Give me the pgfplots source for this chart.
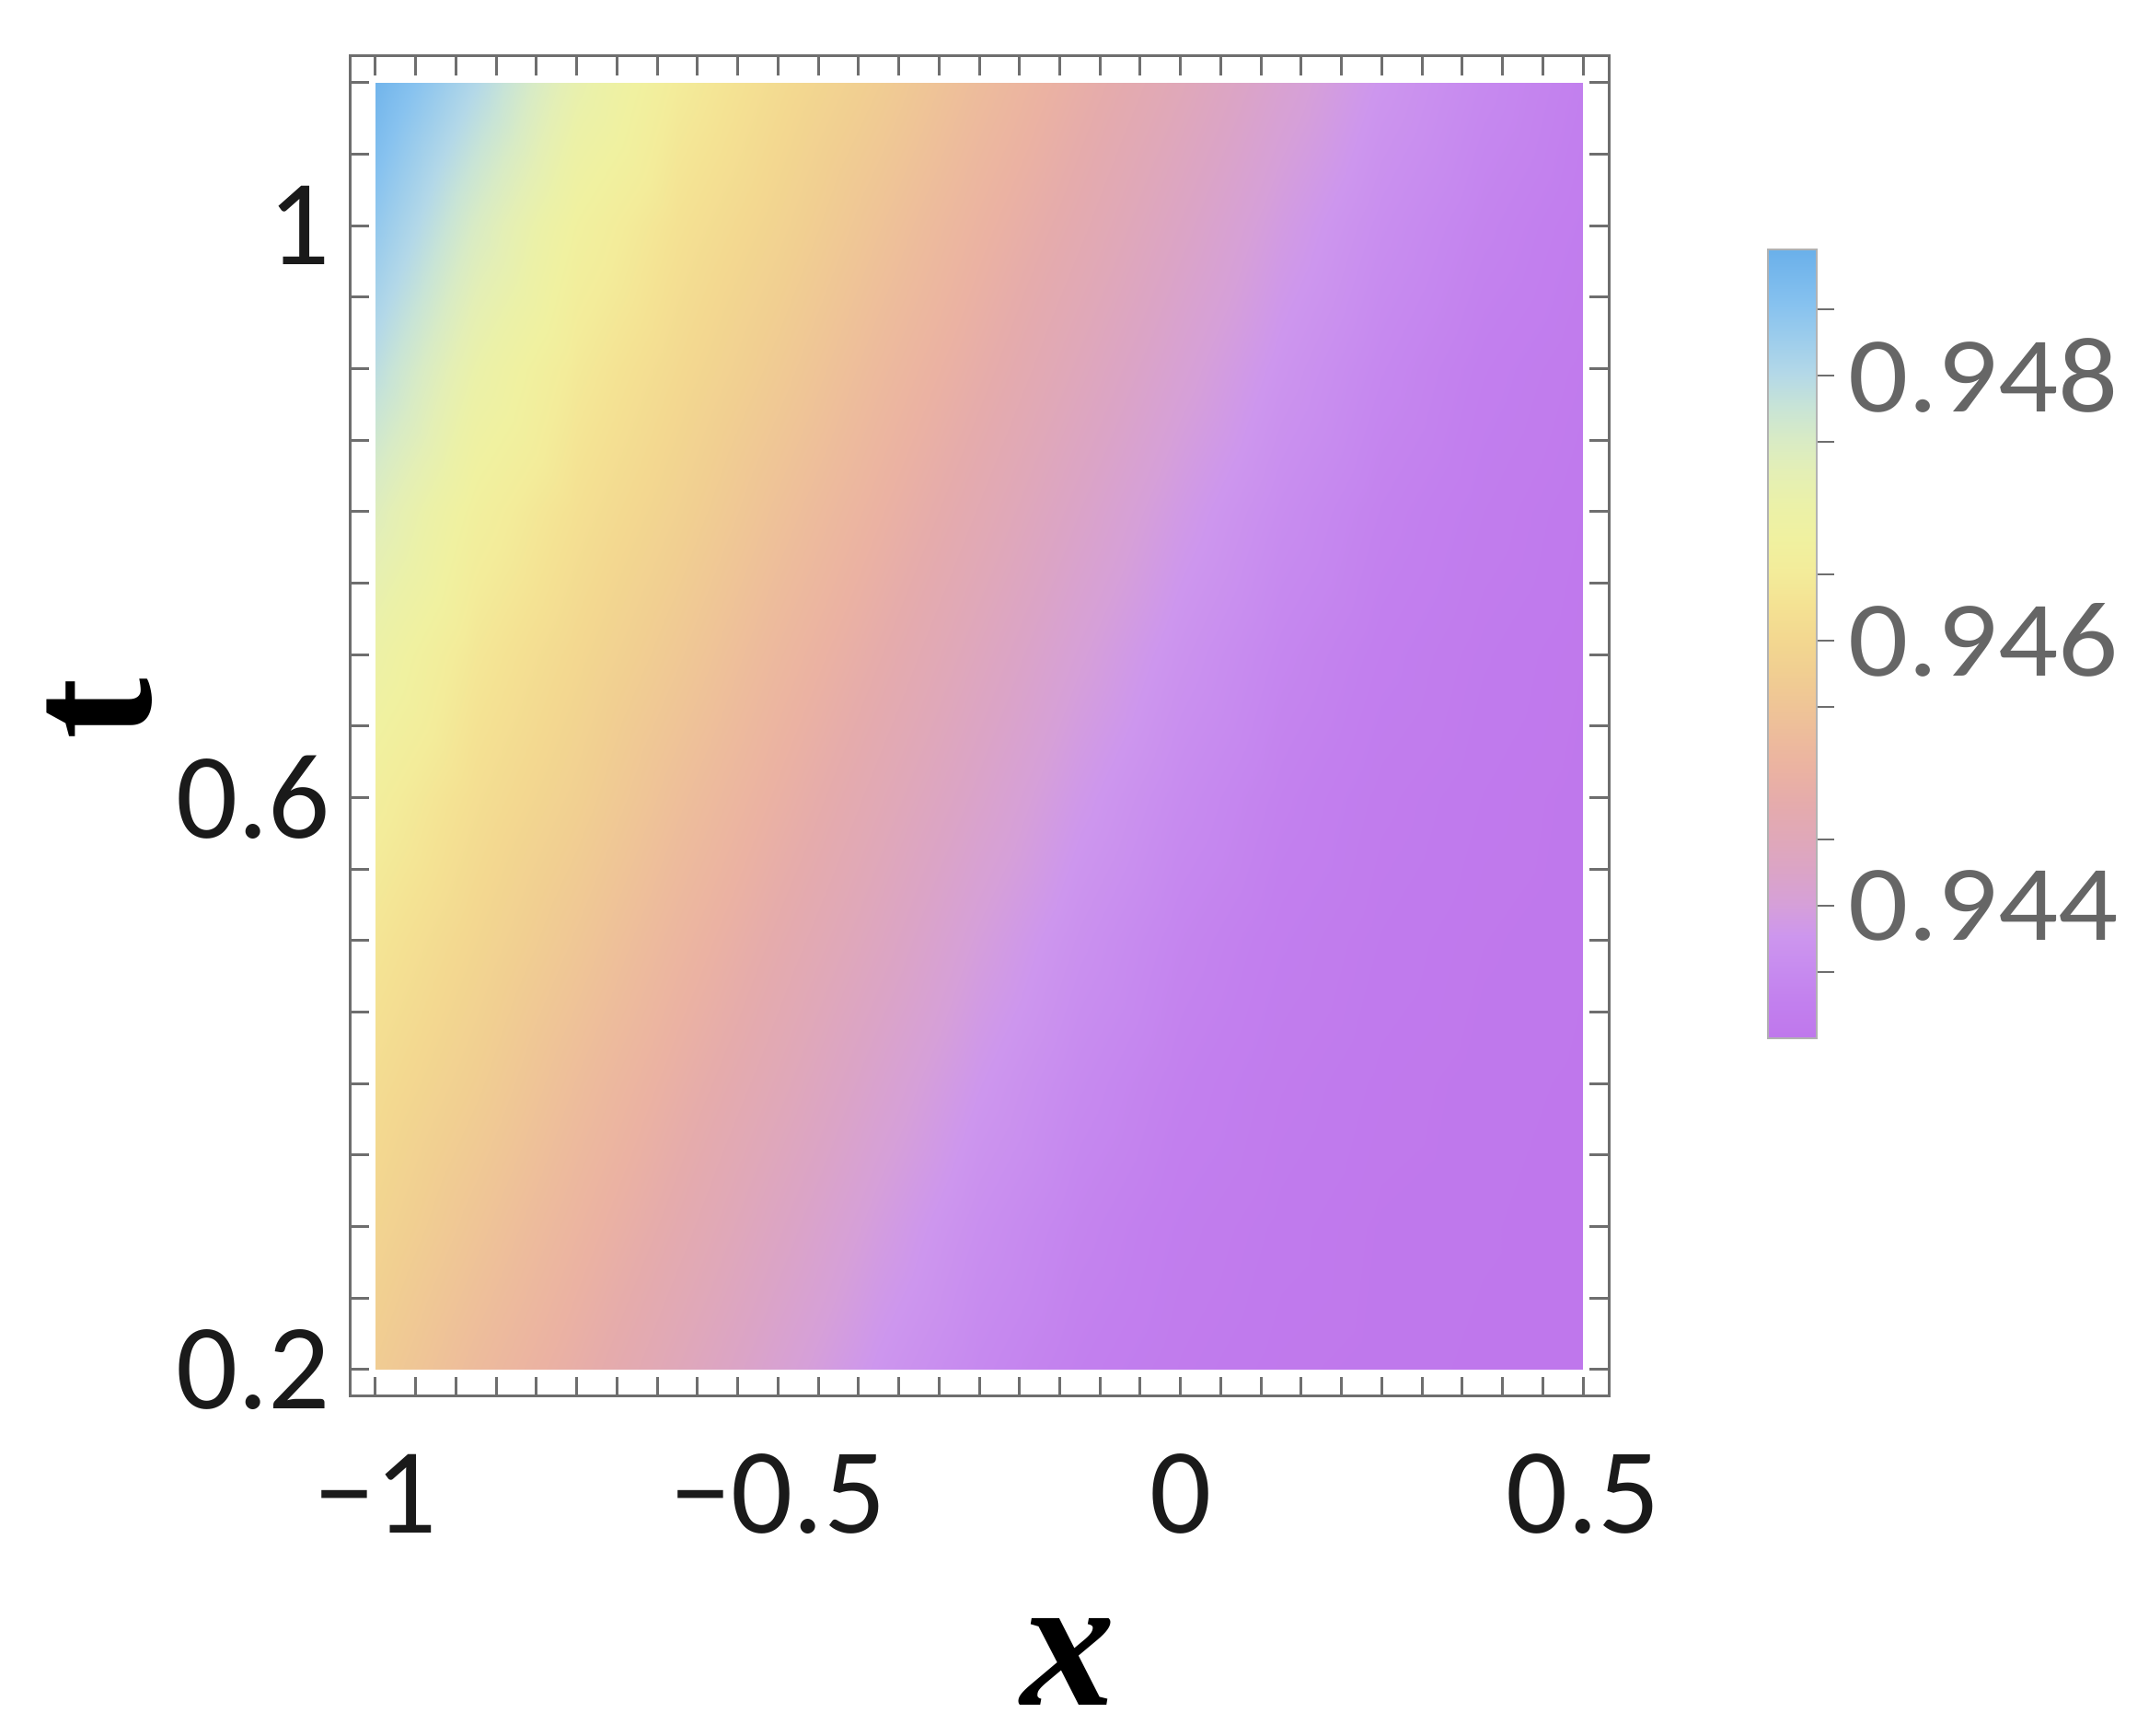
\documentclass[border=0pt]{standalone}
\usepackage{fontspec}
\setmainfont{Carlito}
\newfontfamily\labelfont{Liberation Serif}
\usepackage{graphicx}
\usepackage{pgfplots}
\pgfplotsset{compat=1.18}

\definecolor{framegray}{RGB}{110,110,110}
\definecolor{cbtext}{RGB}{102,102,102}
\definecolor{ticktext}{RGB}{26,26,26}

% value scale: position = (value - 0.94300) * 1e5
\pgfplotsset{colormap={pastel}{
  rgb255(0pt)=(191,119,236) rgb255(26pt)=(194,127,238) rgb255(52pt)=(199,139,239)
  rgb255(77pt)=(205,150,238) rgb255(102pt)=(214,160,216) rgb255(127pt)=(219,164,198)
  rgb255(152pt)=(224,168,184) rgb255(177pt)=(229,171,172) rgb255(202pt)=(235,178,162)
  rgb255(227pt)=(237,187,156) rgb255(252pt)=(239,197,150) rgb255(278pt)=(241,207,145)
  rgb255(302pt)=(243,216,144) rgb255(327pt)=(244,226,147) rgb255(352pt)=(243,236,154)
  rgb255(377pt)=(240,241,160) rgb255(402pt)=(235,241,168) rgb255(427pt)=(228,239,181)
  rgb255(452pt)=(216,235,197) rgb255(476pt)=(200,228,214) rgb255(502pt)=(179,216,232)
  rgb255(553pt)=(135,194,239) rgb255(595pt)=(106,176,234)}}

\begin{document}
\begin{tikzpicture}
\useasboundingbox (0,0) rectangle (464.4pt,377.2pt);
\begin{axis}[
  at={(76pt,73.8pt)}, anchor=south west,
  scale only axis, width=273.6pt, height=291.2pt,
  xmin=-1.032, xmax=0.532, ymin=0.1813, ymax=1.1187,
  colormap name=pastel,
  point meta min=0.94300, point meta max=0.94895,
  axis line style={framegray, line width=0.6pt},
  tick style={framegray, line width=0.6pt},
  tick align=inside,
  major tick length=4.2pt, minor tick length=4.2pt,
  xtick={-1,-0.5,0,0.5}, xticklabels={−1,−0.5,0,0.5},
  ytick={0.2,0.6,1}, yticklabels={0.2,0.6,1},
  minor xtick={-0.95,-0.9,...,0.46},
  minor ytick={0.25,0.3,...,1.11},
  ticklabel style={font=\fontsize{26.5}{28}\selectfont, text=ticktext, inner sep=0pt},
  xticklabel style={anchor=center, yshift=-21.2pt},
  yticklabel style={anchor=east, xshift=-4pt},
  colorbar,
  colorbar style={
    at={(parent axis.north east)}, anchor=north west,
    xshift=26.1pt, yshift=-42pt,
    scale only axis, width=10.6pt, height=171.4pt,
    xtick=\empty,
    ytick={0.944,0.946,0.948},
    yticklabels={\scalebox{1.1}[1]{0.944},\scalebox{1.1}[1]{0.946},\scalebox{1.1}[1]{0.948}},
    minor ytick={0.9435,0.9445,0.9455,0.9465,0.9475,0.9485},
    ytick pos=right, yticklabel pos=right,
    tick align=outside,
    major tick length=3.7pt, minor tick length=3.7pt,
    axis line style={gray!60, line width=0.3pt},
    tick style={framegray, line width=0.4pt},
    yticklabel style={font=\fontsize{23.4}{25}\selectfont, text=cbtext, anchor=west, inner sep=0pt, xshift=2.9pt},
  },
]
\addplot[surf, shader=interp, mesh/cols=13, point meta=explicit]
  table[x=x, y=t, meta=v] {
x t v
-1 0.2 0.94570
-0.875 0.2 0.94527
-0.75 0.2 0.94488
-0.625 0.2 0.94449
-0.5 0.2 0.94411
-0.375 0.2 0.94375
-0.25 0.2 0.94347
-0.125 0.2 0.94327
0 0.2 0.94314
0.125 0.2 0.94306
0.25 0.2 0.94303
0.375 0.2 0.94301
0.5 0.2 0.94300
-1 0.3 0.94592
-0.875 0.3 0.94551
-0.75 0.3 0.94510
-0.625 0.3 0.94471
-0.5 0.3 0.94432
-0.375 0.3 0.94394
-0.25 0.3 0.94361
-0.125 0.3 0.94337
0 0.3 0.94320
0.125 0.3 0.94310
0.25 0.3 0.94304
0.375 0.3 0.94302
0.5 0.3 0.94300
-1 0.4 0.94612
-0.875 0.4 0.94575
-0.75 0.4 0.94532
-0.625 0.4 0.94492
-0.5 0.4 0.94454
-0.375 0.4 0.94415
-0.25 0.4 0.94379
-0.125 0.4 0.94350
0 0.4 0.94329
0.125 0.4 0.94315
0.25 0.4 0.94307
0.375 0.4 0.94303
0.5 0.4 0.94301
-1 0.5 0.94634
-0.875 0.5 0.94596
-0.75 0.5 0.94556
-0.625 0.5 0.94514
-0.5 0.5 0.94475
-0.375 0.5 0.94437
-0.25 0.5 0.94398
-0.125 0.5 0.94365
0 0.5 0.94339
0.125 0.5 0.94322
0.25 0.5 0.94311
0.375 0.5 0.94305
0.5 0.5 0.94302
-1 0.6 0.94661
-0.875 0.6 0.94617
-0.75 0.6 0.94580
-0.625 0.6 0.94537
-0.5 0.6 0.94497
-0.375 0.6 0.94458
-0.25 0.6 0.94420
-0.125 0.6 0.94383
0 0.6 0.94353
0.125 0.6 0.94331
0.25 0.6 0.94316
0.375 0.6 0.94308
0.5 0.6 0.94303
-1 0.7 0.94696
-0.875 0.7 0.94639
-0.75 0.7 0.94600
-0.625 0.7 0.94561
-0.5 0.7 0.94519
-0.375 0.7 0.94480
-0.25 0.7 0.94441
-0.125 0.7 0.94403
0 0.7 0.94369
0.125 0.7 0.94342
0.25 0.7 0.94324
0.375 0.7 0.94312
0.5 0.7 0.94305
-1 0.8 0.94739
-0.875 0.8 0.94667
-0.75 0.8 0.94622
-0.625 0.8 0.94584
-0.5 0.8 0.94542
-0.375 0.8 0.94502
-0.25 0.8 0.94463
-0.125 0.8 0.94424
0 0.8 0.94387
0.125 0.8 0.94356
0.25 0.8 0.94333
0.375 0.8 0.94318
0.5 0.8 0.94308
-1 0.9 0.94791
-0.875 0.9 0.94705
-0.75 0.9 0.94645
-0.625 0.9 0.94605
-0.5 0.9 0.94566
-0.375 0.9 0.94524
-0.25 0.9 0.94485
-0.125 0.9 0.94446
0 0.9 0.94408
0.125 0.9 0.94373
0.25 0.9 0.94345
0.375 0.9 0.94325
0.5 0.9 0.94313
-1 1.0 0.94839
-0.875 1.0 0.94750
-0.75 1.0 0.94673
-0.625 1.0 0.94626
-0.5 1.0 0.94589
-0.375 1.0 0.94547
-0.25 1.0 0.94506
-0.125 1.0 0.94468
0 1.0 0.94429
0.125 1.0 0.94391
0.25 1.0 0.94359
0.375 1.0 0.94336
0.5 1.0 0.94320
-1 1.1 0.94885
-0.875 1.1 0.94803
-0.75 1.1 0.94714
-0.625 1.1 0.94651
-0.5 1.1 0.94610
-0.375 1.1 0.94572
-0.25 1.1 0.94529
-0.125 1.1 0.94489
0 1.1 0.94451
0.125 1.1 0.94412
0.25 1.1 0.94376
0.375 1.1 0.94348
0.5 1.1 0.94327
};
\end{axis}
\node[font=\labelfont\bfseries\itshape\fontsize{41}{44}\selectfont, inner sep=0pt] at (232.2pt,16.2pt) {x};
\node[font=\labelfont\bfseries\fontsize{40}{44}\selectfont, rotate=90, inner sep=0pt] at (21.6pt,223.2pt) {t};
\end{tikzpicture}
\end{document}
